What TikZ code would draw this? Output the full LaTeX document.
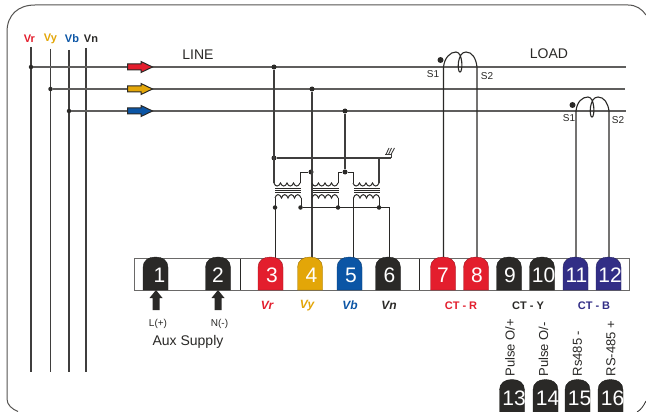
\documentclass[tikz,border=0pt]{standalone}
\usepackage{fontspec}
\setmainfont{Liberation Sans}
\definecolor{cr}{HTML}{E31E2D}
\definecolor{cy}{HTML}{E3A608}
\definecolor{cb}{HTML}{0B55A5}
\definecolor{cn}{HTML}{2A2927}
\definecolor{cp}{HTML}{322E86}
\tikzset{
 x=1pt,y=-1pt,
 wire/.style={draw=cn!90,line width=1.25pt},
 thin wire/.style={draw=cn,line width=1pt},
 busw/.style={draw=cn!75,line width=1.6pt},
 dotn/.style={circle,fill=cn,inner sep=0pt,minimum size=5pt},
 smalldot/.style={circle,fill=cn,inner sep=0pt,minimum size=4.5pt},
 term/.pic={\path[fill=#1,draw=#1!70!black,line width=.4pt] (-12.5,16.5) -- (-12.5,-6) .. controls (-12.5,-13) and (-7,-16.5) .. (0,-16.5) .. controls (7,-16.5) and (12.5,-13) .. (12.5,-6) -- (12.5,16.5) -- cycle;},
 coildown/.pic={\draw[thin wire] (0,0) .. controls (1,4) and (5,4) .. (6.5,0) .. controls (8,4) and (11.5,4) .. (13,0) .. controls (14.5,4) and (18,4) .. (19.5,0) .. controls (21,4) and (24.5,4) .. (26,0);},
 coilrise/.pic={\draw[thin wire] (0,0) .. controls (1,-4.5) and (5,-4.5) .. (6.5,0) .. controls (8,-4.5) and (11.5,-4.5) .. (13,0) .. controls (14.5,-4.5) and (18,-4.5) .. (19.5,0) .. controls (21,-4.5) and (24.5,-4.5) .. (26,0);},
 num/.style={text=white,font=\fontsize{21}{21}\selectfont,inner sep=0pt},
 lab/.style={font=\fontsize{12}{12}\selectfont\bfseries\itshape,inner sep=0pt},
 ctl/.style={font=\fontsize{11}{11}\selectfont\bfseries,inner sep=0pt},
 sl/.style={font=\fontsize{10}{10}\selectfont,text=cn,inner sep=0pt},
 big/.style={font=\fontsize{14}{14}\selectfont,text=cn,inner sep=0pt},
 vert/.style={font=\fontsize{13}{13}\selectfont,text=cn,inner sep=0pt,rotate=90,anchor=west},
 phase/.style={font=\fontsize{11}{11}\selectfont\bfseries,inner sep=0pt},
 farrow/.style={draw=cn,line width=1pt,fill=#1},
}
\begin{document}
\begin{tikzpicture}
\useasboundingbox (0,0) rectangle (646,412);
\fill[white] (0,0) rectangle (646,412);
% frame
\draw[cn!80,line width=1pt] (18,411.5) .. controls (12,409) and (7,405) .. (7,399) -- (7,32) .. controls (7,15) and (18,5) .. (35,5) -- (628,5) .. controls (636,5) and (642,9) .. (646,15);
\draw[cn,line width=.8pt] (637,412) .. controls (641,410) and (644,405) .. (646,401);
% phase labels
\node[phase,text=cr] (lr) at (29.5,38.5) {Vr};
\node[phase,text=cy] (ly) at (50.5,38.5) {Vy};
\node[phase,text=cb] (lb) at (72,38.5) {Vb};
\node[phase,text=cn] (ln) at (91,38.5) {Vn};
% phase verticals
\coordinate (vrt) at (31,47); \coordinate (vrb) at (31,372);
\coordinate (vyt) at (50.5,49); \coordinate (vyb) at (50.5,372);
\coordinate (vbt) at (69,50); \coordinate (vbb) at (69,372);
\coordinate (vnt) at (86,48); \coordinate (vnb) at (86,372);
\draw[wire] (vrt)--(vrb); \draw[wire] (vyt)--(vyb); \draw[wire] (vbt)--(vbb); \draw[wire] (vnt)--(vnb);
% buses
\node[smalldot] (dr) at (31,67) {};
\node[smalldot] (dy) at (50.5,89) {};
\node[smalldot] (db) at (69,111) {};
\coordinate (er) at (626,67); \coordinate (ey) at (625,89); \coordinate (eb) at (626,111);
\draw[busw] (dr)--(er); \draw[busw] (dy)--(ey); \draw[busw] (db)--(eb);
% arrows
\foreach \yy/\cc in {67/cr,89/cy,111/cb}{
 \draw[farrow=\cc] (127.5,\yy-3) -- (141,\yy-3) -- (141,\yy-5.5) -- (152.5,\yy) -- (141,\yy+5.5) -- (141,\yy+3) -- (127.5,\yy+3) -- cycle;
}
\node[big] (line) at (198,55) {LINE};
\node[big] (load) at (549,54) {LOAD};
% PT connections
\node[dotn] (j1) at (274,67) {};
\node[dotn] (j2) at (312,89) {};
\node[dotn] (j3) at (345,111) {};
\node[dotn] (j4) at (274,158) {};
\node[dotn] (j5) at (311,172) {};
\node[dotn] (j6) at (345,172) {};
\coordinate (g) at (391,158);
\draw[wire] (j1)--(274,183);
\draw[wire] (j2)--(312,258);
\draw[wire] (j3)--(j6);
\draw[wire] (j4)--(g);
% ground
\draw[wire,line width=.9pt] (385,154.5)--(391,154.5)--(g);
\draw[wire,line width=.9pt] (386,154.5)--(389,148) (388.5,154.5)--(391.5,148) (391,154.5)--(394.5,148);
% primaries
\pic at (274,183) {coildown};
\draw[thin wire] (300,183)--(300,172)--(j5);
\pic at (312,183) {coildown};
\draw[thin wire] (338,183)--(338,172)--(j6)--(353,172)--(353,183);
\pic at (353,183) {coildown};
\draw[wire] (379,183)--(379,158);
% cores
\foreach \xa in {275,313,354}{
 \draw[cn,line width=.8pt] (\xa,188.3)--++(26,0) (\xa,190.3)--++(26,0) (\xa,192.3)--++(26,0);
}
% secondaries
\pic at (275,198) {coilrise};
\pic at (312,198) {coilrise};
\pic at (353.5,198) {coilrise};
\draw[thin wire] (275,198)--(275,258);
\draw[thin wire] (301,198)--(301,208);
\draw[thin wire] (338,198)--(338,208);
\draw[thin wire] (353.5,198)--(353.5,258);
\draw[thin wire] (379.5,198)--(379.5,208);
\node[smalldot] (s1) at (275,207.5) {};
\node[smalldot] (s2) at (300.5,207.5) {};
\node[smalldot] (s3) at (338,207.5) {};
\node[smalldot] (s4) at (379,207.5) {};
\draw[thin wire] (s2)--(389,207.5)--(389,258);
% CT R
\node[dotn,minimum size=6pt] (ctrd) at (440.5,60) {};
\coordinate (a) at (443.5,67); \coordinate (b) at (477,67);
\draw[cn,line width=1.1pt] (443.5,258)--(a) .. controls (444.5,58) and (450,52) .. (456,52) .. controls (463,52) and (463,72) .. (460,72) .. controls (457,72) and (457,52) .. (466,52) .. controls (472,52) and (476,58) .. (b) -- (477,258);
\node[sl] (s1r) at (433,74) {S1};
\node[sl] (s2r) at (487,76) {S2};
% CT B
\node[dotn,minimum size=6pt] (ctbd) at (572.5,105) {};
\draw[cn,line width=1.1pt] (576,258)--(576,111) .. controls (577,102) and (582,97) .. (588,97) .. controls (595,97) and (595,117) .. (592,117) .. controls (589,117) and (589,97) .. (598,97) .. controls (604,97) and (608,103) .. (609,111) -- (609,258);
\node[sl] (s1b) at (569,118) {S1};
\node[sl] (s2b) at (618,120) {S2};
% strip
\draw[cn!70,line width=1pt,fill=white] (134.5,258.5) rectangle (629,290);
\draw[cn,line width=.9pt] (240,258.5)--(240,290) (419,258.5)--(419,290);
% terminals
\foreach \n/\xx/\dx/\cc in {1/155.5/4/cn,2/218/0/cn,3/270.5/1.5/cr,4/310/1.5/cy,5/349.5/1.5/cb,6/388/1.5/cn,7/443/0/cr,8/476/1/cr,9/509/1/cn,10/542/1.5/cn,11/575.5/1/cp,12/608.5/1.5/cp}{
 \pic at (\xx,273.5) {term=\cc};
 \node[num] (t\n) at (\xx+\dx,275.5) {\n};
}
\foreach \n/\xx in {13/512,14/545.5,15/577.5,16/610.5}{
 \begin{scope}
 \clip (480,370) rectangle (646,412);
 \pic at (\xx,396) {term=cn};
 \end{scope}
 \node[num] (t\n) at (\xx+2,398) {\n};
}
% input arrows
\foreach \xx in {156,218}{
 \fill[cn] (\xx-3.5,310) -- (\xx-3.5,298) -- (\xx-6.5,298) -- (\xx,290) -- (\xx+6.5,298) -- (\xx+3.5,298) -- (\xx+3.5,310) -- cycle;
}
\node[sl] (lp) at (158,323.5) {L(+)};
\node[sl] (lm) at (219.5,323.5) {N(-)};
\node[font=\fontsize{14}{14}\selectfont,text=cn,inner sep=0pt] (aux) at (188,342) {Aux Supply};
\node[lab,text=cr] (vr) at (267,305.5) {Vr};
\node[lab,text=cy] (vy) at (307,305.5) {Vy};
\node[lab,text=cb] (vb) at (350,305.5) {Vb};
\node[lab,text=cn] (vn) at (389,305.5) {Vn};
\node[ctl,text=cr] (ctr) at (461,306) {CT - R};
\node[ctl,text=cn] (cty) at (528,306) {CT - Y};
\node[ctl,text=cp] (ctb) at (594,306) {CT - B};
\node[vert] (p1) at (510,376.5) {Pulse O/+};
\node[vert] (p2) at (543.5,376.5) {Pulse O/-};
\node[vert] (p3) at (577.5,376.5) {Rs485 -};
\node[vert] (p4) at (611,376.5) {RS-485 +};
\end{tikzpicture}
\end{document}
